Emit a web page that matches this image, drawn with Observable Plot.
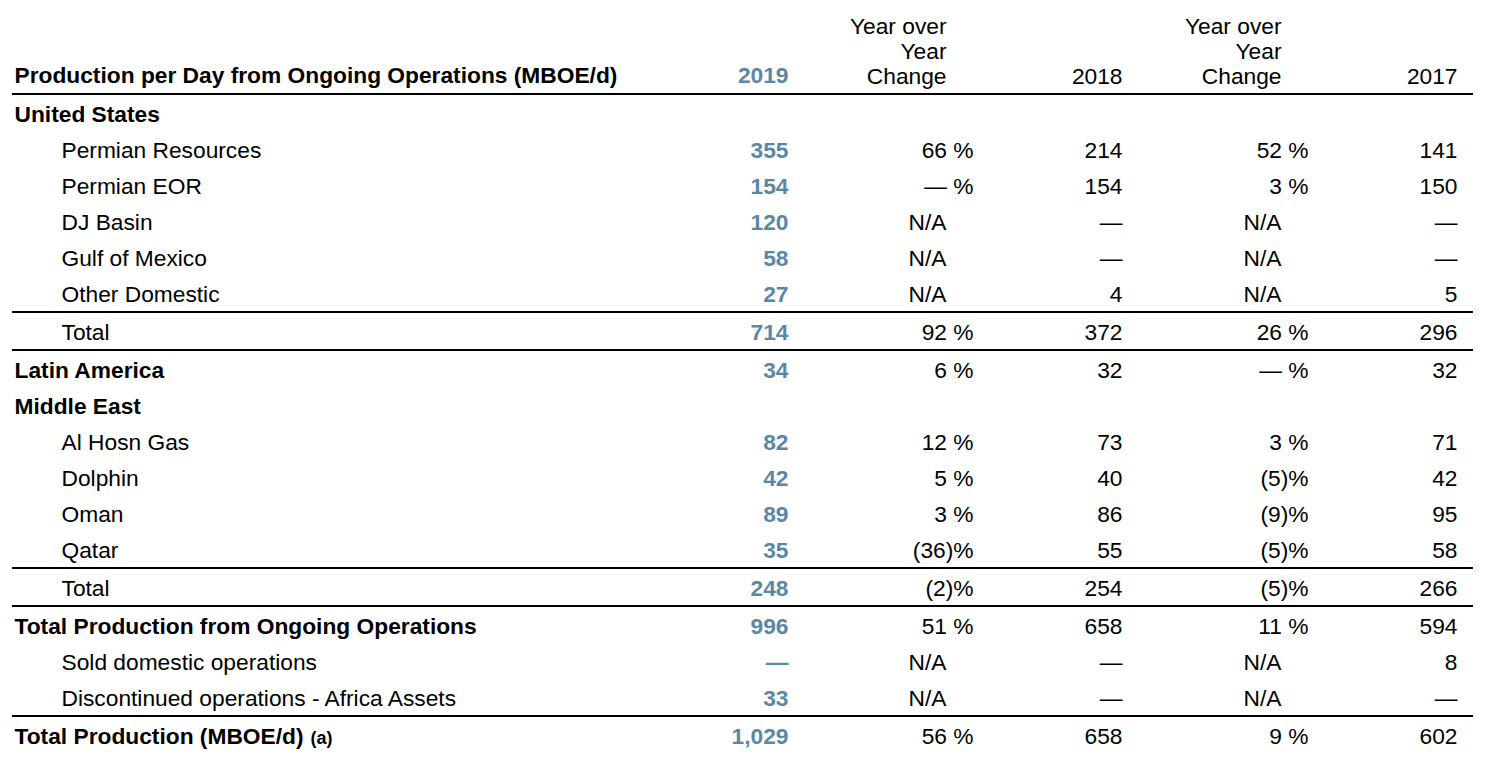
<!DOCTYPE html>
<html><head><meta charset="utf-8">
<script src="https://cdn.jsdelivr.net/npm/d3@7"></script>
<script src="https://cdn.jsdelivr.net/npm/@observablehq/plot@0.6"></script>
<style>body{margin:0;background:#fff;} svg{display:block;}</style>
</head><body><div id="chart"></div>
<script>
// ---------- data ----------
const headerLabel = "Production per Day from Ongoing Operations (MBOE/d)";
const columnKeys = ["y2019", "chg2019", "y2018", "chg2018", "y2017"];
const columnHeaders = ["2019", "Year over\nYear\nChange", "2018", "Year over\nYear\nChange", "2017"];

const rowLabels = [
  "United States", "Permian Resources", "Permian EOR", "DJ Basin", "Gulf of Mexico", "Other Domestic", "Total",
  "Latin America", "Middle East", "Al Hosn Gas", "Dolphin", "Oman", "Qatar", "Total",
  "Total Production from Ongoing Operations", "Sold domestic operations", "Discontinued operations - Africa Assets",
  "Total Production (MBOE/d)"
];
const rowKinds = [
  "group", "item", "item", "item", "item", "item", "item",
  "group", "group", "item", "item", "item", "item", "item",
  "group", "item", "item", "group"
];
// null = blank cell, 0 = shown as an em dash
const prod2019   = [null, 355, 154, 120, 58, 27, 714, 34, null, 82, 42, 89, 35, 248, 996, 0, 33, 1029];
const change2019 = [null, 66, 0, "N/A", "N/A", "N/A", 92, 6, null, 12, 5, 3, -36, -2, 51, "N/A", "N/A", 56];
const prod2018   = [null, 214, 154, 0, 0, 4, 372, 32, null, 73, 40, 86, 55, 254, 658, 0, 0, 658];
const change2018 = [null, 52, 3, "N/A", "N/A", "N/A", 26, 0, null, 3, -5, -9, -5, -5, 11, "N/A", "N/A", 9];
const prod2017   = [null, 141, 150, 0, 0, 5, 296, 32, null, 71, 42, 95, 58, 266, 594, 8, 0, 602];
const rulesAboveRows = [0, 6, 7, 13, 14, 17];
const footnoteRow = 17, footnoteMark = "(a)";

// ---------- layout ----------
const W = 1488, H = 770;
const FONT = "'Liberation Sans', Arial, sans-serif";
const FS = 22.75;
const BLUE = "#5b87a6";
const colX = {label: 14, indent: 61, y2019: 788, chg2019: 973, chg2019NA: 946, y2018: 1122, chg2018: 1308, chg2018NA: 1281, y2017: 1457};
const ruleX1 = 12, ruleX2 = 1473;
const rowUnit = 36, headerPx = 75.5;

// row positions in "row units" (header = 0)
const rowPos = [];
let p = 1 + 3 / rowUnit;
rowLabels.forEach((_, i) => {
  if (i > 0) p += 1 + (rulesAboveRows.includes(i) ? 2 / rowUnit : 0);
  rowPos.push(p);
});
const rulePos = rulesAboveRows.map(i => (i === 0 ? 18 / rowUnit : rowPos[i - 1] + 17 / rowUnit));

const fmtNum = d3.format(",");
const fmtVal = v => v == null ? null : v === 0 ? "—" : fmtNum(v);
const fmtChg = v => v == null ? null : v === "N/A" ? "N/A" : v === 0 ? "— %" : v < 0 ? `(${-v})%` : `${v} %`;

const labels = rowLabels.map((t, i) => ({t, y: rowPos[i], kind: rowKinds[i], x: rowKinds[i] === "group" ? colX.label : colX.indent}));
const cells2019 = prod2019.map((v, i) => ({t: fmtVal(v), y: rowPos[i], x: colX.y2019})).filter(d => d.t);
const otherCells = [];
[[change2019, "chg2019", true], [prod2018, "y2018", false], [change2018, "chg2018", true], [prod2017, "y2017", false]].forEach(([arr, key, isChg]) => {
  arr.forEach((v, i) => {
    const t = isChg ? fmtChg(v) : fmtVal(v);
    if (t) otherCells.push({t, y: rowPos[i], x: (isChg && v === "N/A") ? colX[key + "NA"] : colX[key]});
  });
});
const headers = columnKeys.map((k, j) => ({t: columnHeaders[j], x: k.startsWith("chg") ? colX[k + "NA"] : colX[k], y: 0, blue: j === 0}));

const chart = Plot.plot({
  width: W, height: H,
  margin: 0,
  style: {fontFamily: FONT, fontSize: FS + "px", background: "#fff", color: "#000"},
  x: {type: "linear", domain: [0, W], range: [0, W], axis: null},
  y: {type: "linear", domain: [-headerPx / rowUnit, (H - headerPx) / rowUnit], range: [0, H], axis: null},
  marks: [
    Plot.ruleY(rulePos, {y: d => d, x1: ruleX1, x2: ruleX2, stroke: "#000", strokeWidth: 2}),
    // header
    Plot.text([headerLabel], {x: () => colX.label, y: () => 0, text: d => d, textAnchor: "start", fontWeight: "bold", fontSize: FS, fill: "#000"}),
    Plot.text(headers.filter(d => d.blue), {x: "x", y: "y", text: "t", textAnchor: "end", fontWeight: "bold", fontSize: FS, fill: BLUE}),
    Plot.text(headers.filter(d => !d.blue), {x: "x", y: "y", text: "t", textAnchor: "end", lineAnchor: "bottom", dy: 8, lineHeight: 25 / FS, fontSize: FS, fill: "#000"}),
    // row labels
    Plot.text(labels.filter(d => d.kind === "group"), {x: "x", y: "y", text: "t", textAnchor: "start", fontWeight: "bold", fontSize: FS, fill: "#000"}),
    Plot.text(labels.filter(d => d.kind !== "group"), {x: "x", y: "y", text: "t", textAnchor: "start", fontSize: FS, fill: "#000"}),
    // values
    Plot.text(cells2019, {x: "x", y: "y", text: "t", textAnchor: "end", fontWeight: "bold", fontSize: FS, fill: BLUE}),
    Plot.text(otherCells, {x: "x", y: "y", text: "t", textAnchor: "end", fontSize: FS, fill: "#000"})
  ]
});
document.getElementById("chart").appendChild(chart);

// footnote marker after the last row's label
d3.select(chart).selectAll("text").filter(function () { return this.textContent === rowLabels[footnoteRow]; })
  .append("tspan").attr("font-size", 18).attr("dx", 7).text(footnoteMark);
</script>
</body></html>
